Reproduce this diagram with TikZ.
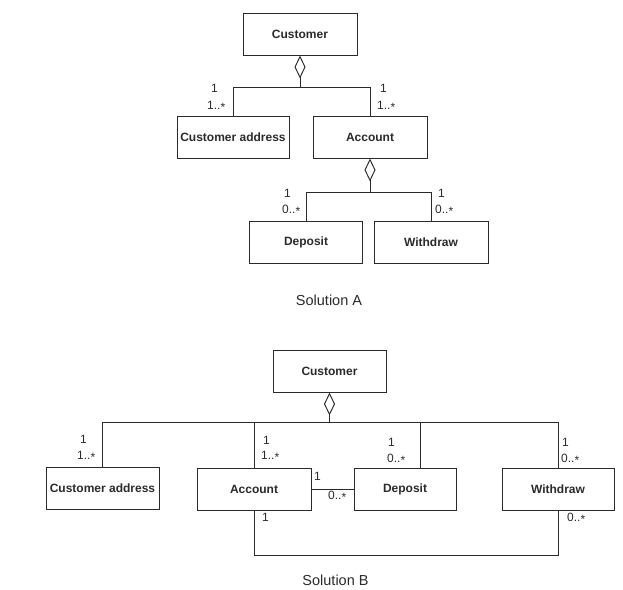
\documentclass[tikz,border=0pt]{standalone}
\usepackage{fontspec}
\setmainfont{Liberation Sans}
\usetikzlibrary{arrows.meta}
\definecolor{ink}{HTML}{2a2a2a}
\newcommand{\mystar}{\raisebox{-1.8pt}{*}}
\begin{document}
\begin{tikzpicture}[x=1pt,y=-1pt,
  class/.style={draw=ink, line width=1pt, minimum height=42pt, inner sep=0pt,
    text=ink, font=\bfseries\fontsize{12}{14}\selectfont},
  conn/.style={draw=ink, line width=0.95pt},
  agg/.style={conn, {Diamond[open,length=23pt,width=11pt,line width=0.95pt]}-},
  mult/.style={inner sep=0pt, text=ink, font=\fontsize{12}{14}\selectfont},
  caption/.style={inner sep=0pt, text=ink, font=\fontsize{14.5}{16}\selectfont}]
\useasboundingbox (0,0) rectangle (623,589);

% ---------------- Solution A ----------------
\node[class, minimum width=114pt] (custA) at (300,34) {Customer};
\node[class, minimum width=112pt] (caA) at (233,137) {Customer address};
\node[class, minimum width=114pt] (accA) at (370,137) {Account};
\node[class, minimum width=113pt] (depA) at (306,242) {Deposit};
\node[class, minimum width=114pt] (wdA) at (431,242) {Withdraw};

\coordinate (jA1) at (300,87);
\draw[agg] (custA.south) -- (jA1);
\draw[conn] (jA1) -| (caA.north);
\draw[conn] (jA1) -| (accA.north);

\coordinate (jA2) at (370,192);
\draw[agg] (accA.south) -- (jA2);
\draw[conn] (jA2) -| (depA.north);
\draw[conn] (jA2) -| (wdA.north);

\node[mult, anchor=west] (mA1) at (211,88) {1};
\node[mult, anchor=west] (mA2) at (207,106) {1..\mystar};
\node[mult, anchor=west] (mA3) at (380,88) {1};
\node[mult, anchor=west] (mA4) at (377,106) {1..\mystar};
\node[mult, anchor=west] (mA5) at (284,193) {1};
\node[mult, anchor=west] (mA6) at (282,210) {0..\mystar};
\node[mult, anchor=west] (mA7) at (438,193) {1};
\node[mult, anchor=west] (mA8) at (435,210) {0..\mystar};

\node[caption] (capA) at (329,300) {Solution A};

% ---------------- Solution B ----------------
\node[class, minimum width=113pt] (custB) at (329.5,371) {Customer};
\node[class, minimum width=113pt] (caB) at (102.5,488) {Customer address};
\node[class, minimum width=114pt] (accB) at (254,489) {Account};
\node[class, minimum width=102pt] (depB) at (405,489) {Deposit};
\node[class, minimum width=112pt] (wdB) at (558,489.5) {Withdraw};

\coordinate (jB) at (329.5,422);
\draw[agg] (custB.south) -- (jB);
\draw[conn] (jB) -| (caB.north);
\draw[conn] (jB) -| (accB.north);
\draw[conn] (jB) -| ([xshift=15pt]depB.north);
\draw[conn] (jB) -| (wdB.north);

\draw[conn] (accB) -- (depB);
\coordinate (loopB) at (0,555);
\draw[conn] (accB.south) -- (accB.south |- loopB) -| (wdB.south);

\node[mult, anchor=west] (mB1) at (80,439) {1};
\node[mult, anchor=west] (mB2) at (77,456) {1..\mystar};
\node[mult, anchor=west] (mB3) at (263,440) {1};
\node[mult, anchor=west] (mB4) at (261,456) {1..\mystar};
\node[mult, anchor=west] (mB5) at (388,442) {1};
\node[mult, anchor=west] (mB6) at (387,459) {0..\mystar};
\node[mult, anchor=west] (mB7) at (562,442) {1};
\node[mult, anchor=west] (mB8) at (561,459) {0..\mystar};
\node[mult, anchor=west] (mB9) at (314,476) {1};
\node[mult, anchor=west] (mB10) at (328,496) {0..\mystar};
\node[mult, anchor=west] (mB11) at (262,517) {1};
\node[mult, anchor=west] (mB12) at (567,518) {0..\mystar};

\node[caption] (capB) at (335.5,580) {Solution B};
\end{tikzpicture}
\end{document}
